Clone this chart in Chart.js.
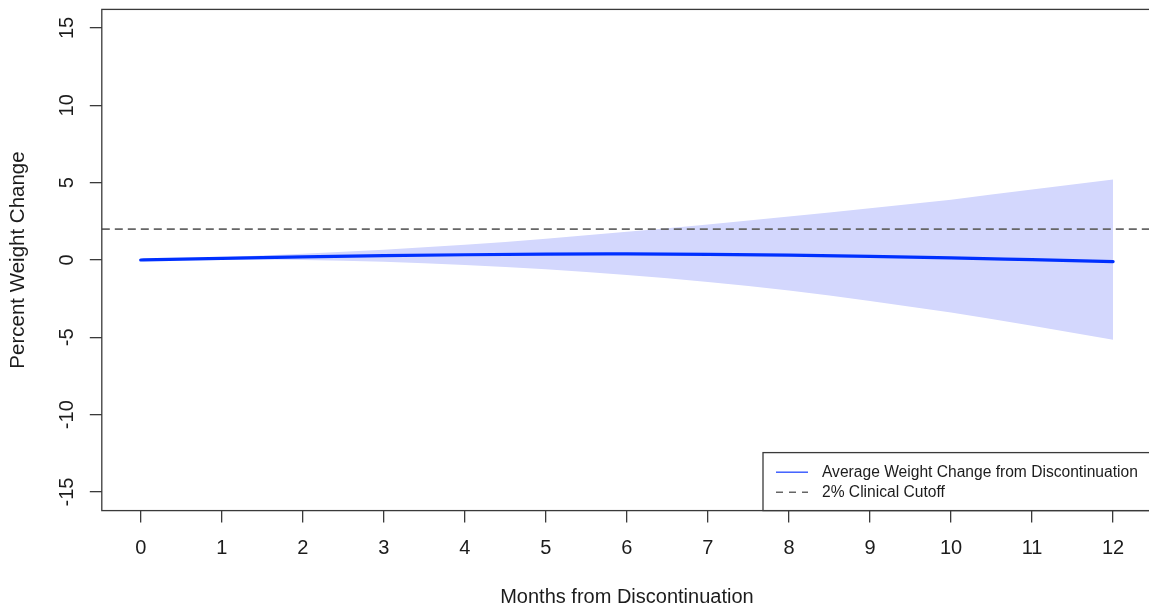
<!DOCTYPE html>
<html>
<head>
<meta charset="utf-8">
<title>Weight change after discontinuation</title>
<script src="https://cdn.jsdelivr.net/npm/chart.js@4.4.1/dist/chart.umd.min.js"></script>
<style>
  html, body { margin: 0; padding: 0; background: #fff; overflow: hidden; }
  #wrap { width: 1160px; height: 605px; }
</style>
</head>
<body>
<div id="wrap"><canvas id="plot" width="1160" height="605"></canvas></div>
<script>
// months after stopping, and the values
const months = [0, 1, 2, 3, 4, 5, 6, 7, 8, 9, 10, 11, 12];
const meanChange = [0, 0.10, 0.20, 0.28, 0.34, 0.38, 0.39, 0.37, 0.32, 0.24, 0.14, 0.02, -0.10];
const upperBand = [0, 0.17, 0.40, 0.66, 0.98, 1.38, 1.82, 2.30, 2.82, 3.35, 3.90, 4.55, 5.20];
const lowerBand = [0, 0.03, 0.00, -0.12, -0.32, -0.60, -0.97, -1.42, -1.97, -2.65, -3.40, -4.25, -5.15];
const CUTOFF = 2;

const xTicks = [0, 1, 2, 3, 4, 5, 6, 7, 8, 9, 10, 11, 12];
const yTicks = [-15, -10, -5, 0, 5, 10, 15];

const MEAN_LABEL = 'Average Weight Change from Discontinuation';
const CUTOFF_LABEL = '2% Clinical Cutoff';

const FONT = '"Liberation Sans", Arial, Helvetica, sans-serif';
const INK = '#1c1c1c';
const AXIS = '#3a3a3a';
const BLUE = '#0030ff';
const BAND = '#d3d7fd';
const DASH = '#666666';

const pts = vals => months.map((m, i) => ({ x: m, y: vals[i] }));

// R-style plot box + abline + legend
const boxPlugin = {
    id: 'rbox',
    afterDatasetsDraw(chart) {
        const { ctx, chartArea: a, scales } = chart;
        const y = scales.y.getPixelForValue(CUTOFF);
        ctx.save();
        ctx.beginPath();
        ctx.rect(a.left, a.top, a.right - a.left, a.bottom - a.top);
        ctx.clip();
        ctx.strokeStyle = DASH;
        ctx.lineWidth = 1.8;
        ctx.setLineDash([8, 5]);
        ctx.beginPath();
        ctx.moveTo(a.left, y);
        ctx.lineTo(a.right, y);
        ctx.stroke();
        ctx.restore();
    },
    afterDraw(chart) {
        const { ctx, chartArea: a } = chart;
        ctx.save();
        ctx.strokeStyle = AXIS;
        ctx.lineWidth = 1.3;
        ctx.strokeRect(a.left, a.top, a.right - a.left, a.bottom - a.top);

        // legend, bottom right
        const w = 389, h = 58;
        const lx = a.right - w, ly = a.bottom - h;
        ctx.fillStyle = '#fff';
        ctx.fillRect(lx, ly, w, h);
        ctx.strokeRect(lx, ly, w, h);

        const rows = [
            { label: MEAN_LABEL, color: '#3355ff', dash: [] },
            { label: CUTOFF_LABEL, color: DASH, dash: [7, 6] }
        ];
        ctx.font = '15.6px ' + FONT;
        ctx.textBaseline = 'middle';
        rows.forEach((r, i) => {
            const ry = ly + 19.6 + i * 20;
            ctx.strokeStyle = r.color;
            ctx.lineWidth = 1.4;
            ctx.setLineDash(r.dash);
            ctx.beginPath();
            ctx.moveTo(lx + 13, ry);
            ctx.lineTo(lx + 45, ry);
            ctx.stroke();
            ctx.fillStyle = INK;
            ctx.fillText(r.label, lx + 59, ry);
        });
        ctx.restore();
    }
};

new Chart(document.getElementById('plot'), {
    type: 'line',
    data: {
        datasets: [
            {
                label: MEAN_LABEL,
                data: pts(meanChange),
                borderColor: BLUE,
                borderWidth: 3.2,
                borderCapStyle: 'round',
                pointRadius: 0,
                cubicInterpolationMode: 'monotone',
                fill: false,
                order: 0
            },
            {
                label: 'upper',
                data: pts(upperBand),
                borderWidth: 0,
                pointRadius: 0,
                backgroundColor: BAND,
                cubicInterpolationMode: 'monotone',
                fill: '+1',
                order: 1
            },
            {
                label: 'lower',
                data: pts(lowerBand),
                borderWidth: 0,
                pointRadius: 0,
                cubicInterpolationMode: 'monotone',
                fill: false,
                order: 2
            }
        ]
    },
    options: {
        responsive: false,
        animation: false,
        events: [],
        layout: { padding: { left: 0, right: 8, top: 9.4, bottom: 0 } },
        plugins: { legend: { display: false }, tooltip: { enabled: false } },
        scales: {
            x: {
                type: 'linear',
                min: -0.48,
                max: 12.48,
                afterFit: s => { s.height = 94.4; s.paddingLeft = 0; s.paddingRight = 0; },
                afterBuildTicks: s => { s.ticks = xTicks.map(v => ({ value: v })); },
                border: { display: false },
                grid: { drawOnChartArea: false, tickLength: 12, tickColor: AXIS, lineWidth: 1.3 },
                ticks: { color: INK, font: { family: FONT, size: 20 }, padding: 14, maxRotation: 0 },
                title: {
                    display: true,
                    text: 'Months from Discontinuation',
                    color: INK,
                    font: { family: FONT, size: 20, lineHeight: 1 },
                    padding: { top: 0, bottom: -2 }
                }
            },
            y: {
                type: 'linear',
                min: -16.2,
                max: 16.2,
                afterFit: s => { s.width = 101.8; s.paddingTop = 0; s.paddingBottom = 0; },
                afterBuildTicks: s => { s.ticks = yTicks.map(v => ({ value: v })); },
                border: { display: false },
                grid: { drawOnChartArea: false, tickLength: 12, tickColor: AXIS, lineWidth: 1.3 },
                ticks: {
                    color: INK,
                    font: { family: FONT, size: 20 },
                    minRotation: 90,
                    maxRotation: 90,
                    crossAlign: 'center',
                    padding: 8
                },
                title: {
                    display: true,
                    text: 'Percent Weight Change',
                    color: INK,
                    font: { family: FONT, size: 20.5, lineHeight: 1 },
                    padding: { top: 8, bottom: 0 }
                }
            }
        }
    },
    plugins: [boxPlugin]
});
</script>
</body>
</html>
